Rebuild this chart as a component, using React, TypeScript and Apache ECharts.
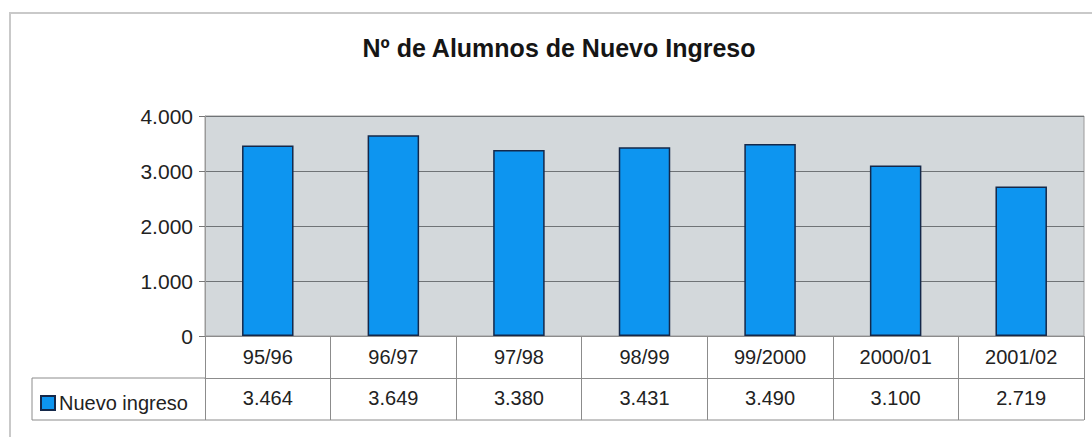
import React, { useEffect, useRef } from "react";
import * as echarts from "echarts";

const categories = ["95/96", "96/97", "97/98", "98/99", "99/2000", "2000/01", "2001/02"];
const nuevoIngreso = [3464, 3649, 3380, 3431, 3490, 3100, 2719];
const yTicks = { min: 0, max: 4000, interval: 1000 };
const seriesName = "Nuevo ingreso";
const titleText = "Nº de Alumnos de Nuevo Ingreso";

const fmt = (v: number) => String(v).replace(/\B(?=(\d{3})+(?!\d))/g, ".");

const W = 1092;
const H = 437;
const gridLeft = 205;
const gridRight = 8;
const gridTop = 116;
const gridBottom = 101;
const axisY = H - gridBottom; // 336
const rowH = 42;
const tableLeft = 32;
const FONT = "'Liberation Sans', Arial, sans-serif";

export default function App() {
  const ref = useRef<HTMLDivElement>(null);
  useEffect(() => {
    document.body.style.margin = "0";
    const chart = echarts.init(ref.current!, null, { renderer: "svg" });
    const lineColor = "#8c8c8c";
    chart.setOption({
      animation: false,
      backgroundColor: "#ffffff",
      textStyle: { fontFamily: FONT },
      title: {
        text: titleText,
        left: 554,
        textAlign: "center",
        top: 30,
        textStyle: { fontFamily: FONT, fontSize: 25, fontWeight: "bold", color: "#151515" },
      },
      legend: {
        data: [seriesName],
        left: tableLeft + 3,
        top: 388,
        icon: "rect",
        itemWidth: 14,
        itemHeight: 14,
        itemGap: 5,
        textStyle: { fontFamily: FONT, fontSize: 20, color: "#222", padding: [0, 0, 0, -1] },
      },
      grid: {
        left: gridLeft,
        right: gridRight,
        top: gridTop,
        bottom: gridBottom,
        show: true,
        backgroundColor: "#d3d8db",
        borderColor: "#9a9a9a",
        borderWidth: 1,
      },
      xAxis: [
        {
          type: "category",
          data: categories,
          position: "bottom",
          axisLine: { show: true, lineStyle: { color: lineColor, width: 1 } },
          axisTick: {
            show: true,
            interval: 0,
            length: rowH * 2,
            inside: false,
            alignWithLabel: false,
            lineStyle: { color: lineColor, width: 1 },
          },
          axisLabel: { margin: 11, fontSize: 20, color: "#222", fontFamily: FONT, interval: 0 },
          splitLine: { show: false },
        },
        {
          type: "category",
          data: categories,
          position: "bottom",
          offset: rowH,
          axisLine: { show: true, lineStyle: { color: lineColor, width: 1 } },
          axisTick: { show: false },
          axisLabel: {
            margin: 10,
            fontSize: 20,
            color: "#222",
            fontFamily: FONT,
            interval: 0,
            formatter: (_v: string, i: number) => fmt(nuevoIngreso[i]),
          },
          splitLine: { show: false },
        },
      ],
      yAxis: {
        type: "value",
        min: yTicks.min,
        max: yTicks.max,
        interval: yTicks.interval,
        axisLine: { show: true, lineStyle: { color: "#9a9a9a" } },
        axisTick: { show: true, length: 6, lineStyle: { color: "#777" } },
        axisLabel: {
          margin: 12,
          fontSize: 21,
          color: "#222",
          fontFamily: FONT,
          formatter: (v: number) => fmt(v),
        },
        splitLine: { show: true, lineStyle: { color: "#6f7376", width: 1.2 } },
      },
      series: [
        {
          name: seriesName,
          type: "bar",
          xAxisIndex: 0,
          data: nuevoIngreso,
          barWidth: "41%",
          itemStyle: { color: "#0d95f0", borderColor: "#14284a", borderWidth: 1.5 },
        },
      ],
      graphic: [
        {
          type: "rect",
          shape: { x: 10, y: 13, width: W + 20, height: H + 20 },
          style: { fill: "none", stroke: "#c9c9c9", lineWidth: 2 },
          silent: true,
          z: -1,
        },
        {
          type: "line",
          shape: { x1: tableLeft, y1: axisY + rowH, x2: gridLeft, y2: axisY + rowH },
          style: { stroke: lineColor, lineWidth: 1 },
          silent: true,
        },
        {
          type: "line",
          shape: { x1: tableLeft, y1: axisY + rowH * 2, x2: W - gridRight, y2: axisY + rowH * 2 },
          style: { stroke: lineColor, lineWidth: 1 },
          silent: true,
        },
        {
          type: "line",
          shape: { x1: tableLeft, y1: axisY + rowH, x2: tableLeft, y2: axisY + rowH * 2 },
          style: { stroke: lineColor, lineWidth: 1 },
          silent: true,
        },
      ],
    });
    return () => chart.dispose();
  }, []);
  return <div ref={ref} style={{ width: W, height: H }} />;
}
